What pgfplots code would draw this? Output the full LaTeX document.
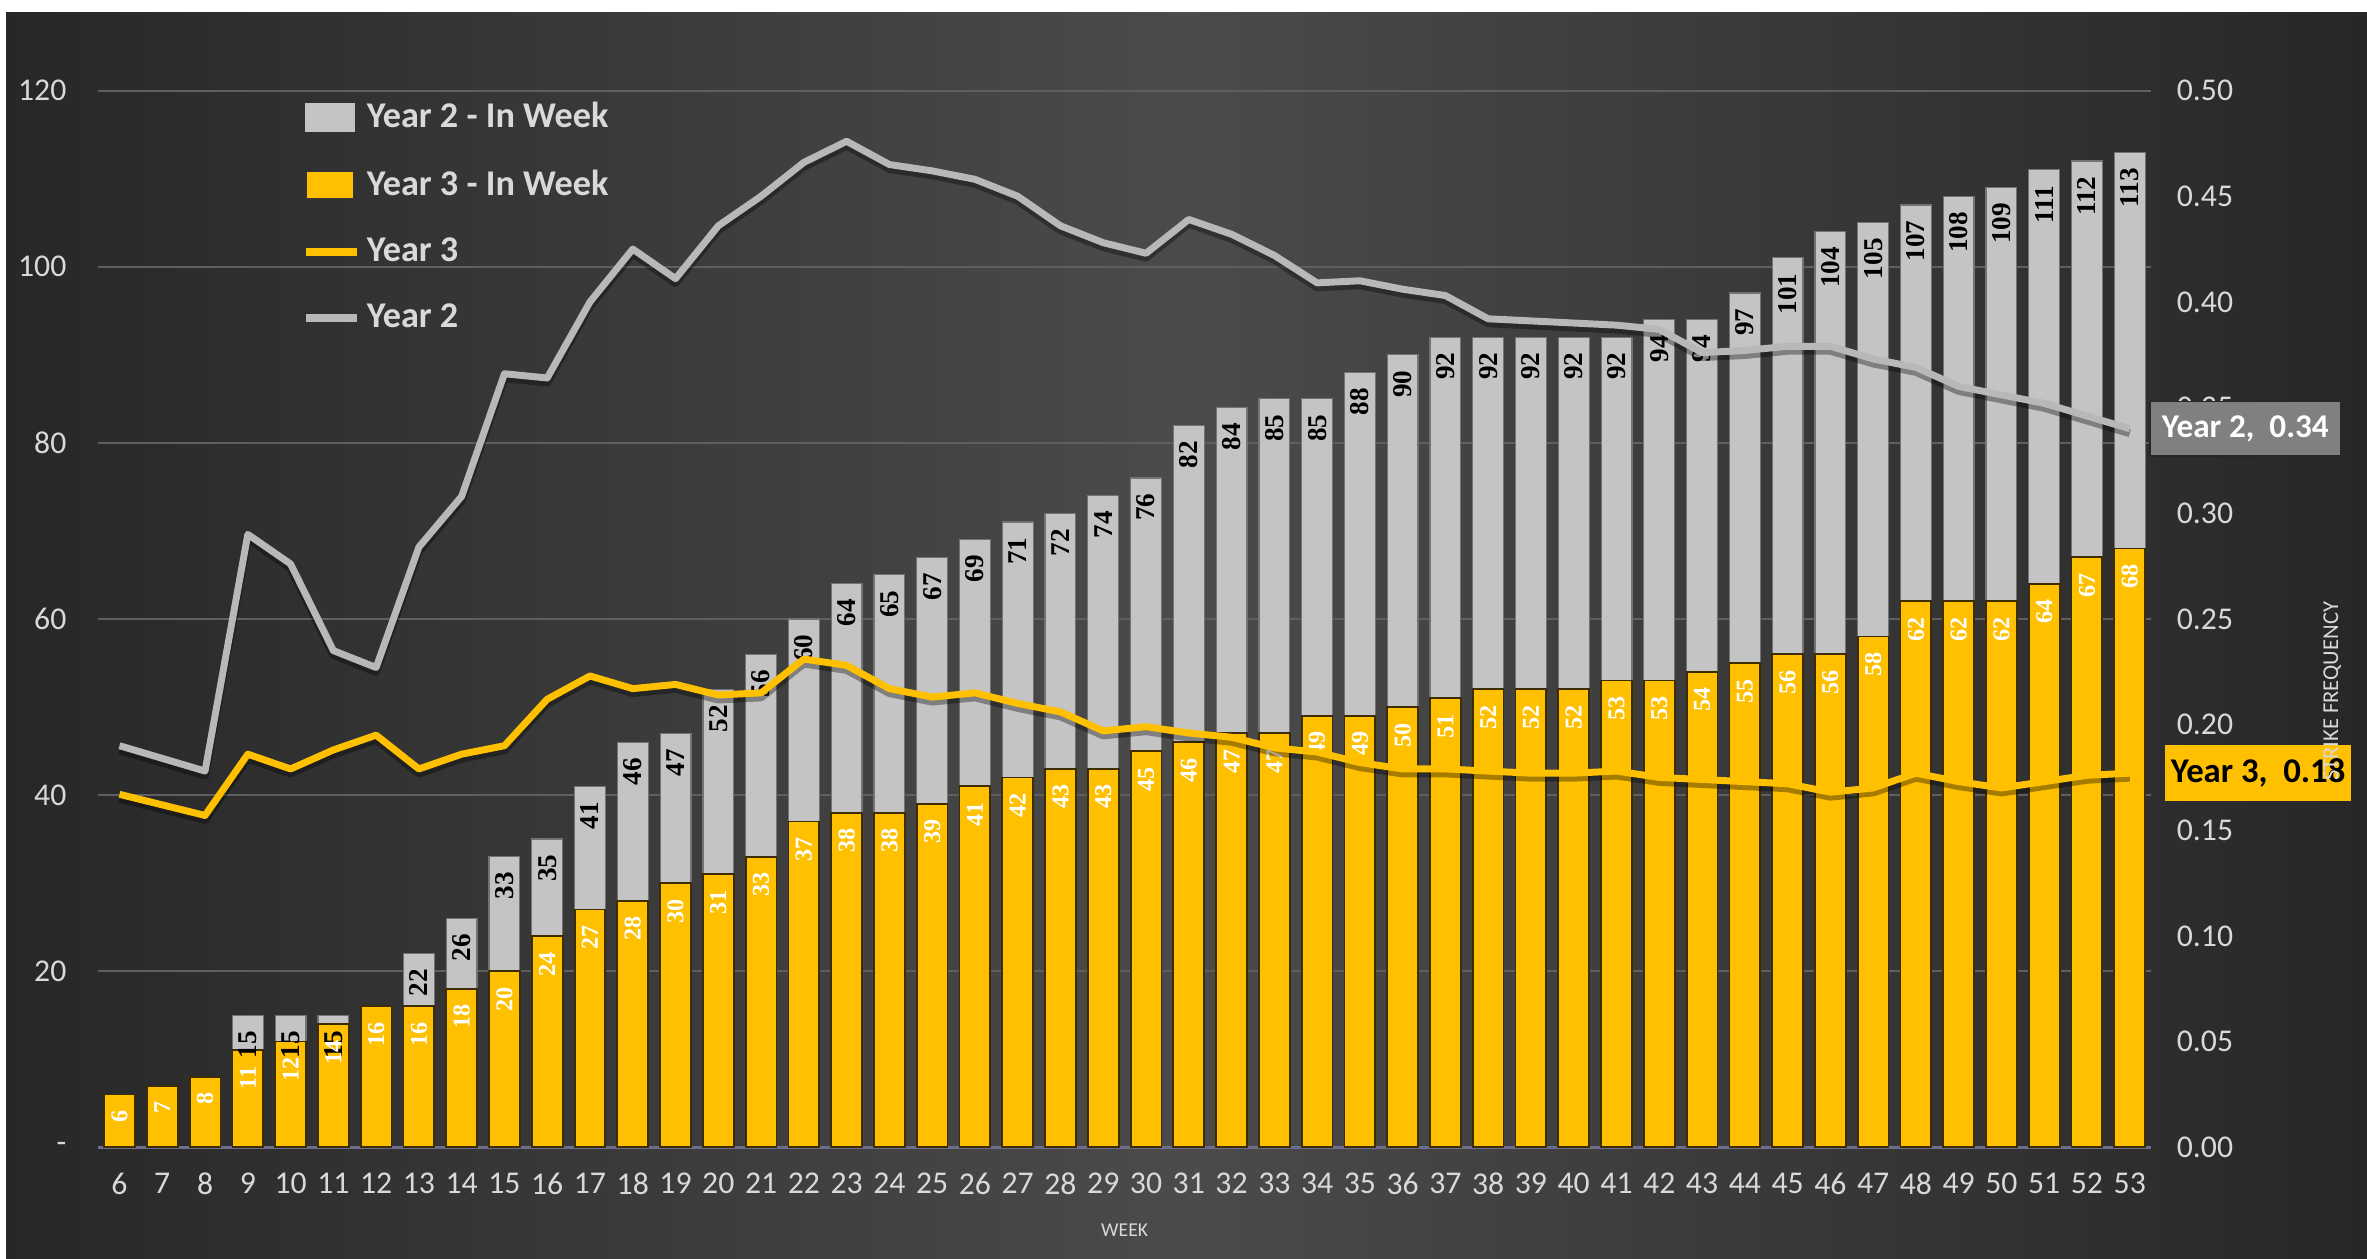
\documentclass[border=0pt]{standalone}
\usepackage{pgfplots}
\pgfplotsset{compat=1.18}
\usepackage{fontspec}
\setmainfont{Carlito}
\newfontfamily\serifb{Liberation Serif}
\definecolor{bgdark}{HTML}{272727}
\definecolor{bgmid}{HTML}{4B4B4B}
\definecolor{gridc}{HTML}{5F5F5F}
\definecolor{tickc}{HTML}{D9D9D9}
\definecolor{barg}{HTML}{C4C4C4}
\definecolor{yel}{HTML}{FFC000}
\definecolor{lineg}{HTML}{B8B8B8}
\definecolor{boxg}{HTML}{808080}
\definecolor{axc}{HTML}{6E6E8C}
\pgfkeys{/pgf/number format/assume math mode=true}

\pgfplotstableread{
week val
9 15
10 15
11 15
13 22
14 26
15 33
16 35
17 41
18 46
19 47
20 52
21 56
22 60
23 64
24 65
25 67
26 69
27 71
28 72
29 74
30 76
31 82
32 84
33 85
34 85
35 88
36 90
37 92
38 92
39 92
40 92
41 92
42 94
43 94
44 97
45 101
46 104
47 105
48 107
49 108
50 109
51 111
52 112
53 113
}\yeartwobars

\pgfplotstableread{
week val
6 6
7 7
8 8
9 11
10 12
11 14
12 16
13 16
14 18
15 20
16 24
17 27
18 28
19 30
20 31
21 33
22 37
23 38
24 38
25 39
26 41
27 42
28 43
29 43
30 45
31 46
32 47
33 47
34 49
35 49
36 50
37 51
38 52
39 52
40 52
41 53
42 53
43 54
44 55
45 56
46 56
47 58
48 62
49 62
50 62
51 64
52 67
53 68
}\yearthreebars

\pgfplotstableread{
week val
6 0.190
7 0.184
8 0.178
9 0.290
10 0.276
11 0.235
12 0.227
13 0.284
14 0.308
15 0.366
16 0.364
17 0.400
18 0.425
19 0.411
20 0.436
21 0.450
22 0.466
23 0.476
24 0.465
25 0.462
26 0.458
27 0.450
28 0.436
29 0.428
30 0.423
31 0.439
32 0.432
33 0.422
34 0.409
35 0.410
36 0.406
37 0.403
38 0.392
39 0.391
40 0.390
41 0.389
42 0.387
43 0.376
44 0.377
45 0.379
46 0.379
47 0.373
48 0.369
49 0.360
50 0.356
51 0.352
52 0.346
53 0.340
}\yeartwoline

\pgfplotstableread{
week val
6 0.167
7 0.162
8 0.157
9 0.186
10 0.179
11 0.188
12 0.195
13 0.179
14 0.186
15 0.190
16 0.212
17 0.223
18 0.217
19 0.219
20 0.214
21 0.215
22 0.231
23 0.228
24 0.217
25 0.213
26 0.215
27 0.210
28 0.206
29 0.197
30 0.199
31 0.196
32 0.194
33 0.189
34 0.187
35 0.182
36 0.179
37 0.179
38 0.178
39 0.177
40 0.177
41 0.178
42 0.175
43 0.174
44 0.173
45 0.172
46 0.168
47 0.170
48 0.177
49 0.173
50 0.170
51 0.173
52 0.176
53 0.177
}\yearthreeline

\begin{document}
\begin{tikzpicture}
\shade[left color=bgdark, right color=bgdark, middle color=bgmid] (0,0) rectangle (784pt,417pt);
\fill[white] (0,413pt) rectangle (784pt,417pt);
\fill[white] (0,0) rectangle (2pt,417pt);

\begin{axis}[
  at={(32.5pt,37pt)}, anchor=south west,
  scale only axis, width=680pt, height=350pt,
  xmin=5.5, xmax=53.5, ymin=0, ymax=120,
  axis x line*=bottom, axis y line*=left,
  x axis line style={color=axc, line width=1pt, -},
  y axis line style={draw=none},
  major tick length=0pt,
  xtick={6,...,53},
  ytick={0,20,...,120},
  yticklabels={-,20,40,60,80,100,120},
  ymajorgrids, grid style={gridc, line width=0.7pt},
  ticklabel style={font=\fontsize{10.5}{12}\selectfont, text=tickc},
  xticklabel style={anchor=center, yshift=-12pt},
  yticklabel style={anchor=east, xshift=-7pt},
  xlabel={WEEK},
  every axis x label/.style={at={(rel axis cs:0.5,0)}, anchor=center, yshift=-27.5pt, font=\fontsize{6.5}{7}\selectfont, text=tickc},
  legend style={at={(rel axis cs:0.099,0.995)}, anchor=north west, draw=none, fill=none, inner sep=0pt, row sep=8.5pt,
    font=\bfseries\fontsize{12}{13}\selectfont, text=tickc, cells={anchor=west}},
  legend cell align=left,
]
\addplot[ybar, bar width=0.72, bar shift=0pt, fill=barg, draw=black!55, line width=0.4pt,
  legend image code/.code={\fill[barg] (0pt,-4.5pt) rectangle (16pt,4.5pt);},
  nodes near coords,
  every node near coord/.append style={rotate=90, anchor=east, inner xsep=5pt, inner ysep=0pt,
    font=\serifb\bfseries\fontsize{9}{9}\selectfont, text=black}]
  table[x=week, y=val] {\yeartwobars};
\addlegendentry{Year 2 - In Week}
\addplot[ybar, bar width=0.72, bar shift=0pt, fill=yel, draw={rgb,255:red,60;green,44;blue,0}, line width=0.6pt,
  legend image code/.code={\filldraw[fill=yel, draw=black!80, line width=0.6pt] (0pt,-4.5pt) rectangle (16pt,4.5pt);},
  nodes near coords,
  every node near coord/.append style={rotate=90, anchor=east, inner xsep=5pt, inner ysep=0pt,
    font=\serifb\bfseries\fontsize{8}{8}\selectfont, text=white}]
  table[x=week, y=val] {\yearthreebars};
\addlegendentry{Year 3 - In Week}
\addlegendimage{legend image code/.code={\draw[yel, line width=2.5pt] (0pt,0pt) -- (17pt,0pt);}}
\addlegendentry{Year 3}
\addlegendimage{legend image code/.code={\draw[lineg, line width=2.5pt] (0pt,0pt) -- (17pt,0pt);}}
\addlegendentry{Year 2}
\end{axis}

\begin{axis}[
  at={(32.5pt,37pt)}, anchor=south west,
  scale only axis, width=680pt, height=350pt,
  xmin=5.5, xmax=53.5, ymin=0, ymax=0.5,
  axis x line=none, axis y line*=right,
  y axis line style={draw=none},
  major tick length=0pt,
  ytick={0,0.05,0.1,0.15,0.2,0.25,0.3,0.35,0.4,0.45,0.5},
  yticklabels={0.00,0.05,0.10,0.15,0.20,0.25,0.30,0.35,0.40,0.45,0.50},
  ticklabel style={font=\fontsize{10.5}{12}\selectfont, text=tickc},
  yticklabel style={anchor=west, xshift=5pt},
  clip=false,
]
\addplot[black, opacity=0.35, line width=2.6pt, line join=round, yshift=-1.5pt, forget plot] table[x=week, y=val] {\yearthreeline};
\addplot[yel, line width=2.3pt, line join=round] table[x=week, y=val] {\yearthreeline}
  node[pos=1, anchor=west, xshift=10.5pt, fill=yel, text=black, inner sep=2pt, minimum height=18.5pt, minimum width=60pt,
    font=\bfseries\fontsize{11.5}{12}\selectfont] {Year 3,\ \ 0.18};
\addplot[black, opacity=0.35, line width=2.6pt, line join=round, yshift=-1.5pt, forget plot] table[x=week, y=val] {\yeartwoline};
\addplot[lineg, line width=2.3pt, line join=round] table[x=week, y=val] {\yeartwoline}
  node[pos=1, anchor=west, xshift=6.5pt, fill=boxg, draw=black!85, line width=0.6pt, text=white, inner sep=2pt,
    minimum height=18pt, minimum width=63pt, font=\bfseries\fontsize{11}{12}\selectfont] {Year 2,\ \ 0.34};
\end{axis}

\node[rotate=90, text=tickc, font=\fontsize{7.5}{8}\selectfont] at (772.5pt,188pt) {STRIKE FREQUENCY};

\pgfresetboundingbox
\useasboundingbox (0,0) rectangle (784pt,417pt);
\end{tikzpicture}
\end{document}
